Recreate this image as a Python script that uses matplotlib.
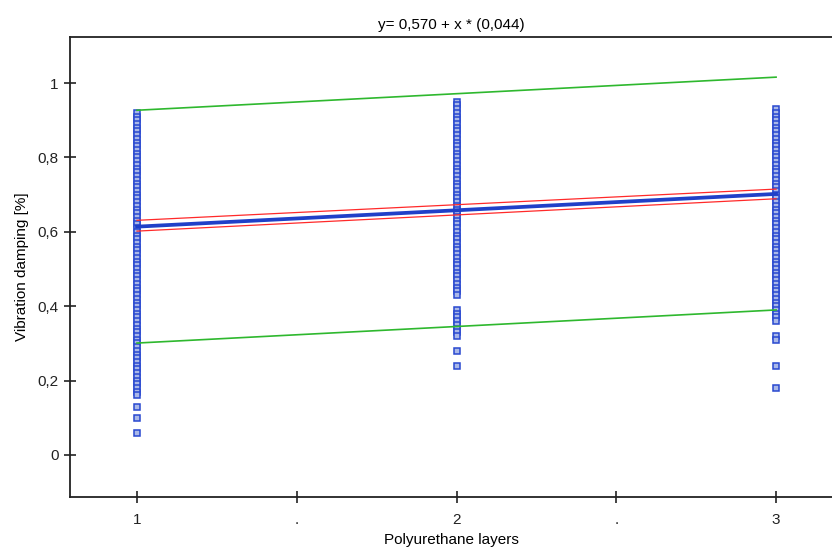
import matplotlib.pyplot as plt

# Polyurethane layers vs vibration damping, regression with confidence / prediction bands
layers = [1, 2, 3]

damping_1 = [0.92, 0.91, 0.90, 0.89, 0.88, 0.87, 0.86, 0.85, 0.84, 0.83,
             0.82, 0.81, 0.80, 0.79, 0.78, 0.77, 0.76, 0.75, 0.74, 0.73,
             0.72, 0.71, 0.70, 0.69, 0.68, 0.67, 0.66, 0.65, 0.64, 0.63,
             0.62, 0.61, 0.60, 0.59, 0.58, 0.57, 0.56, 0.55, 0.54, 0.53,
             0.52, 0.51, 0.50, 0.49, 0.48, 0.47, 0.46, 0.45, 0.44, 0.43,
             0.42, 0.41, 0.40, 0.39, 0.38, 0.37, 0.36, 0.35, 0.34, 0.33,
             0.32, 0.31, 0.30, 0.29, 0.28, 0.27, 0.26, 0.25, 0.24, 0.23,
             0.22, 0.21, 0.20, 0.19, 0.18, 0.17, 0.16, 0.13, 0.10, 0.06]

damping_2 = [0.95, 0.94, 0.93, 0.92, 0.91, 0.90, 0.89, 0.88, 0.87, 0.86,
             0.85, 0.84, 0.83, 0.82, 0.81, 0.80, 0.79, 0.78, 0.77, 0.76,
             0.75, 0.74, 0.73, 0.72, 0.71, 0.70, 0.69, 0.68, 0.67, 0.66,
             0.65, 0.64, 0.63, 0.62, 0.61, 0.60, 0.59, 0.58, 0.57, 0.56,
             0.55, 0.54, 0.53, 0.52, 0.51, 0.50, 0.49, 0.48, 0.47, 0.46,
             0.45, 0.44, 0.43, 0.39, 0.38, 0.37, 0.36, 0.35, 0.34, 0.33,
             0.32, 0.28, 0.24]

damping_3 = [0.93, 0.92, 0.91, 0.90, 0.89, 0.88, 0.87, 0.86, 0.85, 0.84,
             0.83, 0.82, 0.81, 0.80, 0.79, 0.78, 0.77, 0.76, 0.75, 0.74,
             0.73, 0.72, 0.71, 0.70, 0.69, 0.68, 0.67, 0.66, 0.65, 0.64,
             0.63, 0.62, 0.61, 0.60, 0.59, 0.58, 0.57, 0.56, 0.55, 0.54,
             0.53, 0.52, 0.51, 0.50, 0.49, 0.48, 0.47, 0.46, 0.45, 0.44,
             0.43, 0.42, 0.41, 0.40, 0.39, 0.38, 0.37, 0.36, 0.32, 0.31,
             0.24, 0.18]

# band end points at x=1 and x=3
line_x = [1, 3]
fit_y = [0.614, 0.702]
conf_upper = [0.631, 0.715]
conf_lower = [0.602, 0.689]
pred_upper = [0.927, 1.016]
pred_lower = [0.301, 0.390]

xtick_pos = [1, 1.5, 2, 2.5, 3]
xtick_labels = ['1', '.', '2', '.', '3']
ytick_pos = [0, 0.2, 0.4, 0.6, 0.8, 1.0]
ytick_labels = ['0', '0,2', '0,4', '0,6', '0,8', '1']

plt.rcParams['font.family'] = ['Liberation Sans', 'DejaVu Sans']

fig = plt.figure(figsize=(8.32, 5.57), dpi=100)
ax = fig.add_axes([0.084, 0.1077, 0.916, 0.8259])

#scatter columns
for x, vals in zip(layers, [damping_1, damping_2, damping_3]):
    ax.plot([x] * len(vals), vals, linestyle='none', marker='s', markersize=4.4,
            markerfacecolor='#aab8e8', markeredgecolor='#2848d0', markeredgewidth=1.1)

#prediction band, confidence band, fit
ax.plot(line_x, pred_upper, color='#2eb82e', lw=1.2)
ax.plot(line_x, pred_lower, color='#2eb82e', lw=1.2)
ax.plot(line_x, conf_upper, color='#ff2a2a', lw=0.9)
ax.plot(line_x, conf_lower, color='#ff2a2a', lw=0.9)
ax.plot(line_x, fit_y, color='#1f40c8', lw=2.7)

ax.set_xlim(0.79, 3.175)
ax.set_ylim(-0.113, 1.124)
ax.set_xticks(xtick_pos)
ax.set_xticklabels(xtick_labels)
ax.set_yticks(ytick_pos)
ax.set_yticklabels(ytick_labels)

ax.tick_params(direction='inout', length=9, width=1.2, labelsize=11, colors='#222222')
ax.tick_params(axis='x', pad=7)
for s in ['left', 'top', 'bottom']:
    ax.spines[s].set_linewidth(1.3)
    ax.spines[s].set_color('#222222')
ax.spines['right'].set_visible(False)

ax.set_xlabel('Polyurethane layers', fontsize=11, labelpad=4)
ax.set_ylabel('Vibration damping [%]', fontsize=11, labelpad=6)
ax.set_title('y= 0,570 + x * (0,044)', fontsize=11, pad=6)

fig.savefig('out.png', dpi=100)
